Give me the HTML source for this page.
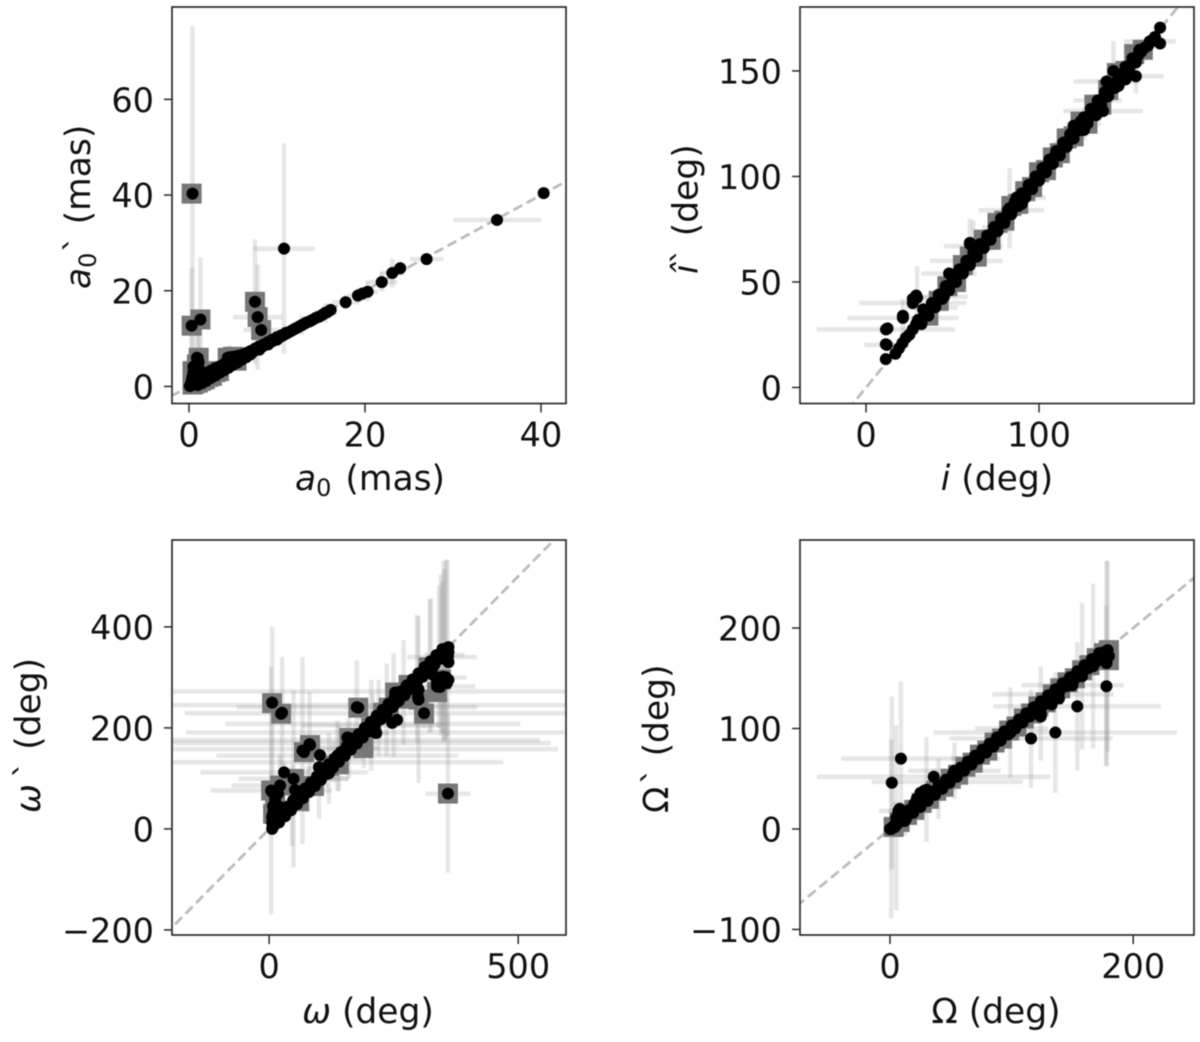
<!DOCTYPE html>
<html lang="en">
<head>
<meta charset="utf-8">
<title>Recovered versus true orbital parameters</title>
<style>
html,body{margin:0;padding:0;background:#fff;}
body{width:1200px;height:1042px;overflow:hidden;}
#figure{display:block;filter:blur(0.6px);}
text{font-family:"DejaVu Sans","Liberation Sans",sans-serif;fill:#111;}
.tick-text{font-size:33.5px;}
.axis-text{font-size:34.5px;}
.it{font-style:italic;}
</style>
</head>
<body>
<svg id="figure" xmlns="http://www.w3.org/2000/svg" width="1200" height="1042" viewBox="0 0 1200 1042">
  <rect x="0" y="0" width="1200" height="1042" fill="#fff"/>
  <g id="panel-a0"></g>
  <g id="panel-i"></g>
  <g id="panel-w"></g>
  <g id="panel-O"></g>

  <text class="axis-text" x="370" y="490" text-anchor="middle"><tspan class="it">a</tspan><tspan font-size="24" dy="6">0</tspan><tspan dy="-6" dx="3"> (mas)</tspan></text>
  <text class="axis-text" transform="translate(90,289) rotate(-90)"><tspan class="it">a</tspan><tspan font-size="24" dy="6">0</tspan><tspan dy="-6">` (mas)</tspan></text>

  <text class="axis-text" x="997" y="490" text-anchor="middle"><tspan class="it">i</tspan> (deg)</text>
  <text class="axis-text" transform="translate(697.5,274) rotate(-90)"><tspan class="it">î</tspan>` (deg)</text>

  <text class="axis-text" x="368" y="1023" text-anchor="middle"><tspan class="it">ω</tspan> (deg)</text>
  <text class="axis-text" transform="translate(40,813) rotate(-90)"><tspan class="it">ω</tspan><tspan dx="6">`</tspan> (deg)</text>

  <text class="axis-text" x="996" y="1023" text-anchor="middle">Ω (deg)</text>
  <text class="axis-text" transform="translate(668,813) rotate(-90)">Ω<tspan dx="2">`</tspan> (deg)</text>
</svg>

<script>
/* ---------- a0 panel ---------- */
const a0XTicks = [0, 20, 40];
const a0YTicks = [0, 20, 40, 60];
const a0XLimits = [-1.93, 42.84];
const a0YLimits = [-3.56, 79.3];
const a0DotX = [0.1,0.2,0.3,0.4,0.5,0.6,0.7,0.8,1,1.2,1.4,1.6,1.8,2,2.3,2.6,2.9,3.2,3.5,3.8,4.1,4.4,4.7,5,5.3,5.6,5.9,6.2,6.5,6.8,7.1,7.4,7.7,8,8.3,8.6,8.9,9.2,9.5,9.8,10.1,10.4,10.7,11,11.3,11.6,11.9,12.2,12.5,12.8,13.1,13.4,13.7,14,14.4,14.8,15.2,15.7,16.1,0.3,0.4,0.5,0.6,0.7,0.9,0.8,1,1.2,0.5,4.4,5,5.5,6];
const a0DotY = [0.1,0.2,0.3,0.4,0.5,0.6,0.7,0.8,1,1.2,1.4,1.6,1.8,2,2.3,2.6,2.9,3.2,3.5,3.8,4.1,4.4,4.7,5,5.3,5.6,5.9,6.2,6.5,6.8,7.1,7.4,7.7,8,8.3,8.6,8.9,9.2,9.5,9.8,10.1,10.4,10.7,11,11.3,11.6,11.9,12.2,12.5,12.8,13.1,13.4,13.6,13.9,14.3,14.6,15,15.5,16,1.2,2,3,1.6,2.6,3.6,4.6,5.9,3.4,4.1,6,6.2,6.4,6.6];
const a0EdgeX = [0.6,1,1.5,2,2.5,3,3.5,4,4.5,5,5.5,6,6.5,7,7.5,8,8.5,9,9.5,10,10.5,11,1,1.5,2,2.5,3,3.5,4,4.5,5,5.5,6,6.5,7,8,9,10];
const a0EdgeY = [1.6,2.1,2.4,2.9,3.3,3.8,4.2,4.7,5.2,5.6,6.1,6.5,7,7.4,7.9,8.4,8.8,9.3,9.8,10.3,10.7,11.2,0.3,0.7,1.2,1.8,2.3,2.9,3.4,3.9,4.5,5,5.6,6.1,6.7,7.7,8.8,9.8];
const a0BarX = [0.4,0.3,1.3,7.5,7.8,8.2,10.8,0.9,1.1,4.6,9.6,12.8,15.5,17.8,19.2,19.7,20.3,21.9,23.1,24,27,35,40.3];
const a0BarY = [40.3,12.7,14,17.7,14.5,11.8,28.8,6,5,6.1,9.6,12.8,15.4,17.6,19,19.4,19.8,21.8,23.7,24.7,26.6,34.8,40.4];
const a0BarXErr = [0,0,0,0.2,2.8,2,3.5,0.3,0.2,0.5,0.4,1.2,1.3,1.5,1.2,1,1.2,1.8,1.4,1,1.9,5,0.6];
const a0BarYErr = [35,12,13,13,11,4,22,5,6,2.5,1.5,2,2,1.5,1.5,1.5,2,2,3,1.5,1,1.2,0.6];
const a0SquareX = [0.3,0.3,1.3,7.5,7.8,8.2,0.4,0.5,0.4,0.6,0.9,1.1,1,1.4,1.8,2.2,2.6,3,3.4,4.4,5,5.4];
const a0SquareY = [40.3,12.7,14,17.7,14.5,11.8,0.4,1.8,3.2,0.6,4.6,6,0.8,1.2,1.5,2,2.2,3,3.2,6,6.2,5.4];

/* ---------- inclination panel ---------- */
const incXTicks = [0, 100];
const incYTicks = [0, 50, 100, 150];
const incXLimits = [-38.2, 189.6];
const incYLimits = [-7.6, 180.3];
const incDotX = [17,19,21,23,25,27,29,31,33,35,37,39,41,43,45,47,49,51,53,55,57,59,61,63,65,67,69,71,73,75,77,79,81,83,85,87,89,91,93,95,97,99,101,103,105,107,109,111,113,115,117,119,121,123,125,127,129,131,133,135,137,139,141,143,145,147,149,151,153,155,157,159,161,163,165,167,124,128,137,150,170,170,167,60,12.4,11.4,11.4,21.3,27,29,33,35,87,90,120,126,133,146,152];
const incDotY = [16,18.5,21,23.5,25,27.5,30,31,33,35,37.5,39,41,43,45,47.5,49,51,53.5,55,57,59.5,61,63,65.5,67,69,71,73,75.5,77,79,81,83.5,85,87,89,91.5,93,95,97,99.5,101,103,105,107,109.5,111,113,115,117,119,121,123,125,127,129,131.5,133,135,137,139.5,141,143,145,147,149,151,153,155,157,159,161,162,164,166,126,125,131,146,170.5,163,166,68.5,28,20.5,13.4,34,42,43.6,37,36,90,87,124,122,129,143,150];
const incEdgeX = [30,34,38,42,46,50,54,58,62,66,70,74,78,82,86,90,94,98,102,106,110,114,118,122,126,130,134,138,142,146,150,154,158,32,36,40,44,48,52,56,60,64,68,72,76,80,84,88,92,96,100,104,108,112,116,120,124,128,132,136,140,144,148,152,156];
const incEdgeY = [32,36,40,44,48,52,56,60,64,68,72,76,80,84,88,92,96,100,104,108,112,116,120,124,128,132,136,140,144,148,152,156,160,30,34,38,42,46,50,54,58,62,66,70,74,78,82,86,90,94,98,102,106,110,114,118,122,126,130,134,138,142,146,150,154];
const incBarX = [11.5,12,21.3,27,29.5,38,45,48,58,62,84,83,92,60,137,134,139,156,164,143,126,110,74,100];
const incBarY = [27.5,20.2,33,40,42.5,37.8,43,54,60,67,84,85,90,68,131,136,145,147.5,164,150,125,112,76,100];
const incBarXErr = [40,13,32,31,6,15,14,16,21,17,19,3,12,3,23,14,19,16,15,3,10,6,7,4];
const incBarYErr = [3,3,9,3,15,8,6,3,5,12,3,19,3,12,3,3,3,8,3,14,8,5,6,8];
const incSquareX = [36,42,47,52,56,60,64,68,72,76,80,84,88,92,96,100,104,108,112,116,120,124,128,132,136,140,145,150,155,160];
const incSquareY = [34,41,48,50,58,62,62,70,70,78,79,86,87,93,95,102,103,109,111,118,119,126,125,134,134,141,149,150,158,160];

/* ---------- omega panel ---------- */
const omXTicks = [0, 500];
const omYTicks = [-200, 0, 200, 400];
const omXLimits = [-195, 596];
const omYLimits = [-210, 572];
const omDotX = [6,7,8,10,12,14,18,24,30,38,46,54,62,70,78,86,94,102,110,118,126,134,142,150,158,166,174,182,190,198,206,214,222,230,238,246,254,262,270,278,286,294,302,310,318,326,334,342,350,356,360,6,7,8,9,6,8,10,12,13,12,20,18,102,100,100,253,262,247,257,215,299,300,337,357,349,329,343,359,360,355,358,360,360,52,16,6,24,70,82,161,179,110,120,225];
const omDotY = [0,3,5,7,10,14,18,24,30,38,46,54,62,70,78,86,94,102,110,118,126,134,142,150,158,166,174,182,190,198,206,214,222,230,238,246,254,262,270,278,286,294,302,310,318,326,334,342,350,356,360,12,20,30,38,24,45,34,40,30,57,44,70,146,122,103,270,258,210,216,190,261,276,289,289,301,305,281,341,295,300,340,350,330,77,76,73,228,152,166,180,240,118,110,218];
const omEdgeX = [12,24,36,48,60,72,84,96,108,120,132,144,156,168,180,192,204,216,228,240,252,264,276,288,300,312,324,336,348,20,32,44,56,68,80,92,104,116,128,140,152,164,176,188,200,212,224,236,248,260,272,284,296,308,320,332,344];
const omEdgeY = [20,32,44,56,68,80,92,104,116,128,140,152,164,176,188,200,212,224,236,248,260,272,284,296,308,320,332,344,356,13,25,37,49,61,73,85,97,109,121,133,145,157,169,181,193,205,217,229,241,253,265,277,289,301,313,325,337];
const omBarX = [4,6,26,176,311,359,67,81,30,49,22,157,272,250,208,213,174,165,160,137,130,300,322,350,355,358,352,347,270,205,236,297,325,341,345,100,120,140,160,190,220,78,46,337,345];
const omBarY = [76,250,230,241,229,70,155,168,112,99,86,181,272,245,208,191,176,170,158,145,132,256,322,350,355,358,345,340,270,205,236,297,325,341,345,100,120,140,160,190,220,78,46,282,300];
const omBarXErr = [122,0,0,241,480,45,0,0,168,110,98,0,500,470,296,380,370,400,420,243,340,60,0,0,0,0,40,70,0,140,0,0,0,0,0,60,40,50,60,50,40,30,30,77,52];
const omBarYErr = [245,150,110,92,30,157,185,103,20,175,60,20,0,103,60,0,0,0,0,70,40,165,133,180,178,175,170,150,104,90,92,127,132,140,160,80,70,65,60,70,75,45,80,0,0];
const omSquareX = [6,24,179,311,359,70,82,50,4,22,161,253,337,300,345,12,8,60,90,120,140,189,205,229,240,262,280,320];
const omSquareY = [249,228,240,228,70,152,166,99,76,86,180,270,271,256,296,60,30,55,85,125,128,160,200,230,240,258,285,320];

/* ---------- big omega panel ---------- */
const bigXTicks = [0, 200];
const bigYTicks = [-100, 0, 100, 200];
const bigXLimits = [-74, 250];
const bigYLimits = [-105.5, 287.6];
const bigDotX = [0,1,2,3,4,6,8,10,12,14,16,18,20,23,26,29,32,35,38,41,44,47,50,53,56,59,62,65,68,71,74,77,80,83,86,89,92,95,98,101,104,107,110,113,116,119,122,125,128,131,134,137,140,143,146,149,152,155,158,161,164,167,170,173,176,179,180,178,176,7,6,8,22,25,28,124,133,139];
const bigDotY = [0,0.5,1,3,2,5,8,10,11,14,16,18,20,22,26,30,32,34,38,41,44,47,50,53,56,59,62,65,68,71,74,77,80,83,86,89,92,95,98,101,104,107,110,113,116,119,122,125,128,131,134,137,140,143,146,149,152,155,158,161,164,167,170,173,176,178,172,166,170,18,12,20,30,36,38,112,124,130];
const bigEdgeX = [10,16,22,28,34,40,46,52,58,64,70,76,82,88,94,100,106,112,118,124,130,136,142,148,154,160,166,172,13,19,25,31,37,43,49,55,61,67,73,79,85,91,97,103,109,115,121,127,133,139,145,151,157,163,169,175];
const bigEdgeY = [13,19,25,31,37,43,49,55,61,67,73,79,85,91,97,103,109,115,121,127,133,139,145,151,157,163,169,175,10,16,22,28,34,40,46,52,58,64,70,76,82,88,94,100,106,112,118,124,130,136,142,148,154,160,166,172];
const bigBarX = [1,1.5,5,9,36,7,30,47,53,136,116,154,150,134,178,179,167,158,124,99,178,12,20,100,70,40];
const bigBarY = [0,46,11,70,52,18,39,47,58,96,90,122,143,134,165,172,162,152,115,96,142,8,25,100,70,40];
const bigBarXErr = [0,0,0,49,96,16,0,62,38,100,67,69,42,50,0,0,0,0,0,0,0,5,18,30,20,14];
const bigBarYErr = [89,86,92,77,8,6,52,4,28,60,49,64,4,4,102,95,82,73,47,45,80,15,6,10,8,30];
const bigSquareX = [3,8,14,20,26,32,38,44,50,56,62,68,74,80,86,92,98,104,110,116,122,128,134,140,146,152,158,164,170,176,180,180];
const bigSquareY = [2,7,14,19,26,30,38,42,50,54,62,66,74,78,86,90,98,102,110,115,122,126,134,140,146,150,158,163,170,175,178,168];

const SVGNS = 'http://www.w3.org/2000/svg';

function makeNode(parent, tag, attrs) {
  const node = document.createElementNS(SVGNS, tag);
  Object.keys(attrs).forEach(function (k) { node.setAttribute(k, attrs[k]); });
  parent.appendChild(node);
  return node;
}

function drawPanel(cfg) {
  const root = document.getElementById(cfg.id);
  const x = function (v) { return cfg.left + (v - cfg.xLim[0]) / (cfg.xLim[1] - cfg.xLim[0]) * (cfg.right - cfg.left); };
  const y = function (v) { return cfg.bottom - (v - cfg.yLim[0]) / (cfg.yLim[1] - cfg.yLim[0]) * (cfg.bottom - cfg.top); };
  const w = cfg.right - cfg.left;
  const h = cfg.bottom - cfg.top;

  const clipId = cfg.id + '-clip';
  const defs = makeNode(root, 'defs', {});
  const clip = makeNode(defs, 'clipPath', { id: clipId });
  makeNode(clip, 'rect', { x: cfg.left, y: cfg.top, width: w, height: h });

  const plot = makeNode(root, 'g', { 'clip-path': 'url(#' + clipId + ')' });
  
  

  const lo = Math.min(cfg.xLim[0], cfg.yLim[0]);
  const hi = Math.max(cfg.xLim[1], cfg.yLim[1]);
  const diag = makeNode(plot, 'line', { x1: x(lo), y1: y(lo), x2: x(hi), y2: y(hi), stroke: '#bcbcbc', 'stroke-width': 2.8, 'stroke-dasharray': '10 5' });
  
  

  cfg.barX.forEach(function (bx, i) {
    const by = cfg.barY[i];
    if (cfg.barXErr[i] > 0) {
      const hBar = makeNode(plot, 'line', { x1: x(bx - cfg.barXErr[i]), y1: y(by), x2: x(bx + cfg.barXErr[i]), y2: y(by), stroke: 'rgba(130,130,130,0.2)', 'stroke-width': 4.5 });
      
      
    }
    if (cfg.barYErr[i] > 0) {
      const vBar = makeNode(plot, 'line', { x1: x(bx), y1: y(by - cfg.barYErr[i]), x2: x(bx), y2: y(by + cfg.barYErr[i]), stroke: 'rgba(130,130,130,0.2)', 'stroke-width': 4.5 });
      
      
    }
  });

  cfg.squareX.forEach(function (sx, i) {
    const sq = makeNode(plot, 'rect', { x: x(sx) - 10, y: y(cfg.squareY[i]) - 10, width: 20, height: 20, fill: '#777' });
    
    
  });

  const allDotX = cfg.dotX.concat(cfg.edgeX, cfg.barX);
  const allDotY = cfg.dotY.concat(cfg.edgeY, cfg.barY);
  allDotX.forEach(function (dx, i) {
    const dot = makeNode(plot, 'circle', { cx: x(dx), cy: y(allDotY[i]), r: 6, fill: '#000' });
    
    
  });

  const frame = makeNode(root, 'rect', { x: cfg.left, y: cfg.top, width: w, height: h, fill: 'none', stroke: '#2a2a2a', 'stroke-width': 1.7 });
  
  

  cfg.xTicks.forEach(function (t) {
    const mark = makeNode(root, 'line', { x1: x(t), y1: cfg.bottom, x2: x(t), y2: cfg.bottom + 9, stroke: '#2a2a2a', 'stroke-width': 1.5 });
    
    
    const label = makeNode(root, 'text', { x: x(t), y: cfg.bottom + 43, 'text-anchor': 'middle', class: 'tick-text' });
    label.textContent = String(t);
    
    
  });

  cfg.yTicks.forEach(function (t) {
    const mark = makeNode(root, 'line', { x1: cfg.left - 8, y1: y(t), x2: cfg.left, y2: y(t), stroke: '#2a2a2a', 'stroke-width': 1.5 });
    
    
    const label = makeNode(root, 'text', { x: cfg.left - 18, y: y(t) + 12.5, 'text-anchor': 'end', class: 'tick-text' });
    label.textContent = String(t).replace('-', '\u2212');
    
    
  });
}

drawPanel({ id: 'panel-a0', left: 172, right: 566, top: 7, bottom: 403.5,
  xLim: a0XLimits, yLim: a0YLimits, xTicks: a0XTicks, yTicks: a0YTicks,
  dotX: a0DotX, dotY: a0DotY, edgeX: a0EdgeX, edgeY: a0EdgeY,
  barX: a0BarX, barY: a0BarY, barXErr: a0BarXErr, barYErr: a0BarYErr,
  squareX: a0SquareX, squareY: a0SquareY });

drawPanel({ id: 'panel-i', left: 800, right: 1194, top: 7, bottom: 403.5,
  xLim: incXLimits, yLim: incYLimits, xTicks: incXTicks, yTicks: incYTicks,
  dotX: incDotX, dotY: incDotY, edgeX: incEdgeX, edgeY: incEdgeY,
  barX: incBarX, barY: incBarY, barXErr: incBarXErr, barYErr: incBarYErr,
  squareX: incSquareX, squareY: incSquareY });

drawPanel({ id: 'panel-w', left: 172, right: 566, top: 540, bottom: 935,
  xLim: omXLimits, yLim: omYLimits, xTicks: omXTicks, yTicks: omYTicks,
  dotX: omDotX, dotY: omDotY, edgeX: omEdgeX, edgeY: omEdgeY,
  barX: omBarX, barY: omBarY, barXErr: omBarXErr, barYErr: omBarYErr,
  squareX: omSquareX, squareY: omSquareY });

drawPanel({ id: 'panel-O', left: 800, right: 1194, top: 540, bottom: 935,
  xLim: bigXLimits, yLim: bigYLimits, xTicks: bigXTicks, yTicks: bigYTicks,
  dotX: bigDotX, dotY: bigDotY, edgeX: bigEdgeX, edgeY: bigEdgeY,
  barX: bigBarX, barY: bigBarY, barXErr: bigBarXErr, barYErr: bigBarYErr,
  squareX: bigSquareX, squareY: bigSquareY });
</script>
</body>
</html>
